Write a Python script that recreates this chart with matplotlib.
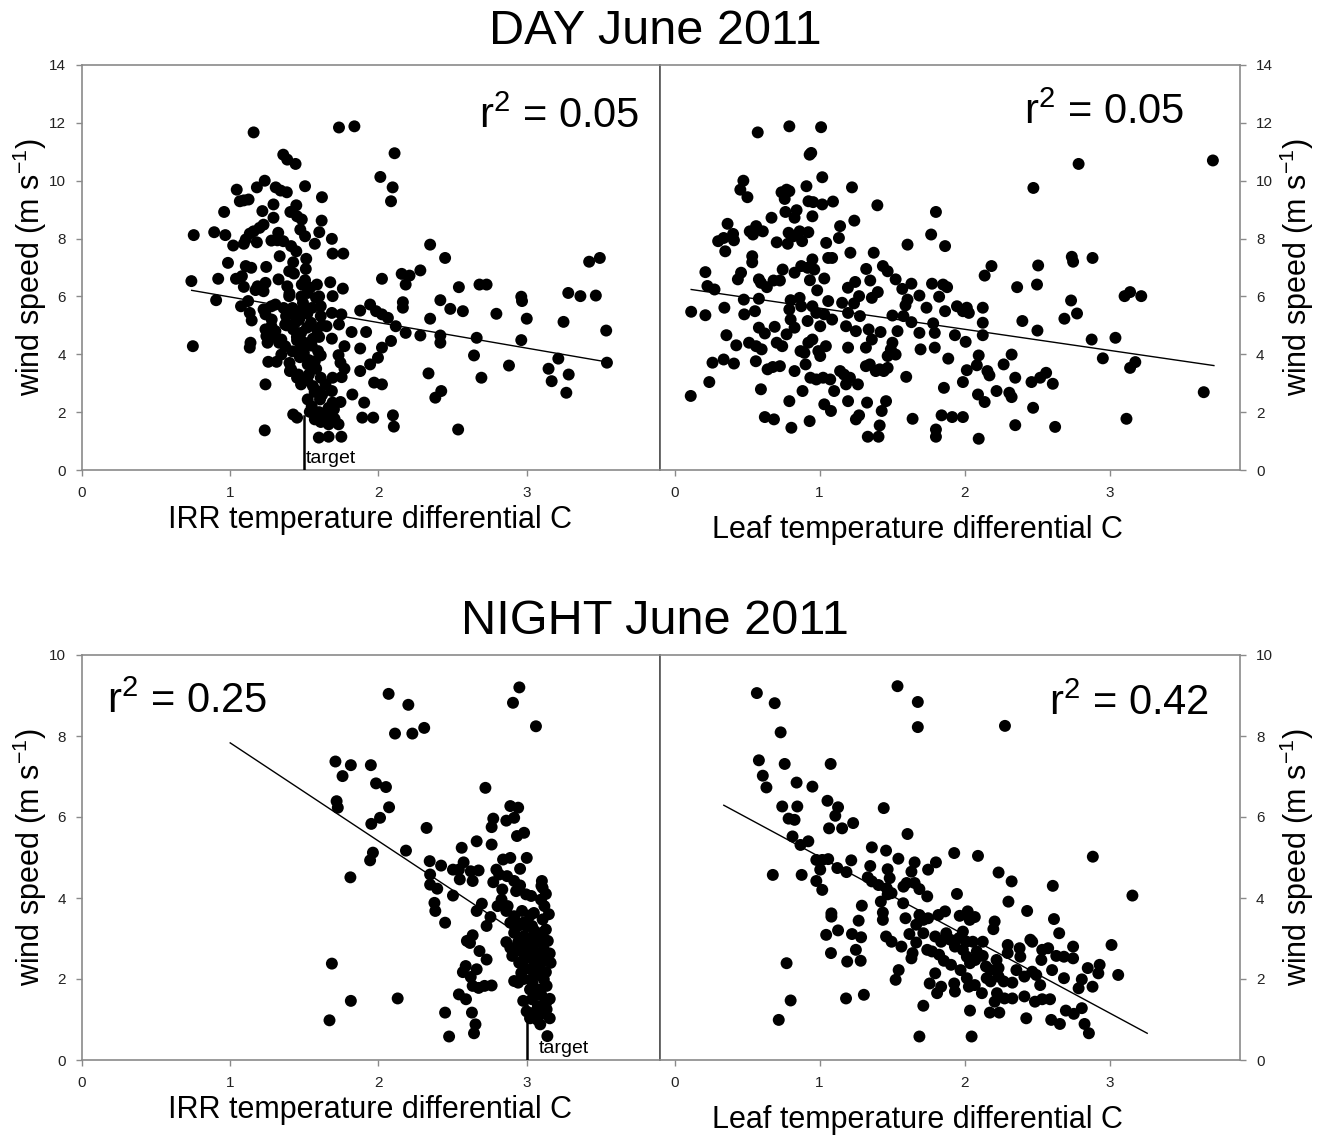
import matplotlib
matplotlib.use("Agg")
import matplotlib.pyplot as plt

plt.rcParams["font.family"] = ["Liberation Sans", "DejaVu Sans"]
plt.rcParams["mathtext.fontset"] = "custom"
plt.rcParams["mathtext.rm"] = "Liberation Sans"

# --- data ------------------------------------------------------------------
# DAY, IRR temperature differential vs wind speed
day_irr_x = [1.158, 1.734, 1.838, 2.109, 1.358, 1.385, 1.441, 2.013, 2.096, 2.085,
             1.233, 1.505, 1.044, 1.18, 1.307, 1.34, 1.382, 1.065, 1.092, 1.124,
             1.619, 1.292, 1.446, 0.959, 1.217, 1.406, 1.451, 1.292, 1.483, 1.617,
             1.225, 1.198, 1.158, 1.132, 0.754, 0.892, 0.967, 1.324, 1.473, 1.505,
             1.601, 1.105, 1.18, 1.092, 1.02, 1.278, 1.318, 1.358, 1.411, 1.446,
             1.571, 1.686, 1.691, 1.763, 1.334, 1.513, 1.425, 0.985, 1.243, 1.105,
             1.142, 1.51, 1.398, 1.43, 1.039, 0.919, 0.738, 1.079, 1.326, 1.505,
             1.585, 1.675, 1.092, 1.185, 1.238, 1.385, 1.483, 1.171, 1.225, 1.398,
             1.521, 1.691, 1.76, 0.905, 1.121, 1.305, 1.278, 1.491, 1.579, 1.611,
             1.073, 1.132, 1.145, 1.225, 1.238, 1.377, 1.446, 1.465, 1.505, 1.545,
             1.611, 1.686, 1.75, 1.371, 1.238, 1.278, 1.305, 1.425, 1.478, 1.518,
             1.585, 1.65, 1.734, 1.819, 1.244, 1.345, 1.451, 1.558, 1.686, 1.252,
             1.137, 1.132, 1.371, 1.478, 1.593, 1.771, 1.345, 1.497, 1.611, 1.731,
             1.257, 1.313, 1.411, 1.523, 1.571, 1.744, 1.771, 1.403, 1.451, 1.531,
             1.611, 1.691, 1.752, 1.478, 1.558, 1.643, 1.686, 1.585, 1.523, 1.606,
             1.691, 1.744, 1.664, 1.425, 1.451, 1.537, 1.571, 1.611, 1.645, 1.664,
             1.704, 1.731, 1.598, 1.664, 1.75, 1.233, 0.748, 1.238, 1.824, 1.877,
             1.917, 1.877, 1.904, 1.891, 1.965, 1.944, 1.971, 2.024, 1.997, 2.024,
             2.085, 2.098, 2.104, 1.877, 1.944, 1.984, 2.024, 2.064, 2.024, 2.117,
             2.165, 2.165, 2.184, 2.157, 2.21, 2.184, 2.283, 2.283, 2.349, 2.349,
             2.418, 2.418, 2.418, 2.338, 2.384, 2.424, 2.45, 2.485, 2.543, 2.57,
             2.538, 2.663, 2.645, 2.682, 2.73, 2.695, 2.796, 2.881, 2.964, 2.969,
             2.964, 3.001, 3.148, 3.169, 3.214, 3.249, 3.281, 3.284, 3.268, 3.363,
             3.422, 3.494, 3.467, 3.537, 3.542,
             1.42, 1.47, 1.52, 1.55, 1.45, 1.50, 1.55, 1.42, 1.47, 1.53,
             1.40, 1.58, 1.46, 1.52, 1.57, 1.62, 1.55, 1.60, 1.70, 1.66,
             1.38, 1.44, 1.60, 1.62, 1.33, 1.30, 1.28, 1.36, 1.40, 1.48,
             1.54, 1.60]
day_irr_y = [11.67, 11.84, 11.88, 10.95, 10.9, 10.73, 10.58, 10.13, 9.77, 9.29,
             10.0, 9.81, 9.69, 9.77, 9.77, 9.66, 9.6, 9.29, 9.32, 9.35,
             9.43, 9.18, 9.15, 8.92, 8.95, 8.92, 8.77, 8.72, 8.66, 8.62,
             8.48, 8.37, 8.25, 8.17, 8.12, 8.22, 8.12, 8.2, 8.31, 8.08,
             8.22, 7.97, 7.87, 7.82, 7.76, 7.93, 7.94, 7.91, 7.74, 7.56,
             7.82, 7.99, 7.48, 7.48, 7.39, 7.3, 7.18, 7.16, 7.02, 7.05,
             6.99, 6.95, 6.87, 6.79, 6.61, 6.61, 6.53, 6.7, 6.59, 6.56,
             6.41, 6.49, 6.33, 6.35, 6.47, 6.35, 6.41, 6.22, 6.18, 6.01,
             6.12, 6.01, 6.27, 5.87, 5.84, 5.72, 5.66, 5.78, 5.95, 5.66,
             5.66, 5.43, 5.17, 5.55, 5.38, 5.32, 5.32, 5.2, 5.49, 5.09,
             5.32, 5.43, 5.38, 5.03, 4.86, 4.97, 4.8, 4.86, 4.74, 4.92,
             4.86, 4.97, 5.03, 4.77, 4.63, 4.51, 4.48, 4.54, 4.54, 4.4,
             4.4, 4.23, 4.28, 4.28, 4.11, 4.28, 3.99, 4.05, 3.96, 3.97,
             3.74, 3.74, 3.48, 3.65, 3.76, 3.71, 3.5, 3.42, 3.19, 3.3,
             3.19, 3.19, 3.21, 2.96, 2.9, 2.96, 2.73, 2.73, 2.44, 2.44,
             2.33, 2.35, 2.15, 1.92, 1.81, 2.01, 1.75, 1.66, 1.84, 1.58,
             1.77, 1.58, 1.12, 1.15, 1.15, 1.37, 4.28, 2.96, 2.61, 4.2,
             4.77, 3.42, 2.33, 1.81, 1.81, 3.65, 3.02, 2.96, 3.88, 4.23,
             4.46, 1.89, 1.5, 5.51, 5.72, 5.49, 5.38, 5.26, 6.61, 4.97,
             5.8, 5.61, 4.74, 6.78, 6.72, 6.41, 6.9, 4.65, 7.79, 5.23,
             5.87, 4.65, 4.4, 3.34, 2.5, 2.73, 7.33, 5.57, 6.32, 5.49,
             1.4, 4.57, 3.96, 6.41, 6.41, 3.19, 5.4, 3.61, 5.99, 5.84,
             4.49, 5.23, 3.5, 3.07, 3.85, 5.12, 6.12, 3.3, 2.67, 6.01,
             7.2, 7.33, 6.03, 4.82, 3.71,
             5.6, 5.5, 5.4, 5.6, 4.6, 4.4, 4.3, 4.1, 3.9, 3.8,
             3.7, 3.5, 3.3, 3.1, 2.7, 2.6, 2.2, 2.0, 2.1, 1.9,
             5.0, 5.1, 4.6, 5.0, 4.4, 4.6, 5.2, 5.6, 6.1, 6.0,
             6.3, 6.0]
day_irr_fit_x = [0.74, 3.57]
day_irr_fit_y = [6.21, 3.71]

# DAY, leaf temperature differential vs wind speed
day_leaf_x = [0.574, 0.792, 1.011, 0.932, 0.943, 1.019, 0.475, 0.454, 0.503, 0.738,
              0.773, 0.792, 0.76, 0.91, 1.224, 0.924, 0.956, 1.019, 1.093, 1.399,
              0.765, 0.842, 0.828, 0.951, 0.669, 0.366, 1.24, 0.519, 0.563, 0.609,
              0.541, 0.787, 0.863, 0.923, 0.82, 0.88, 0.301, 0.339, 0.404, 0.41,
              0.35, 0.705, 0.781, 1.046, 1.134, 1.142, 1.213, 1.374, 1.607, 1.77,
              1.803, 1.866, 0.536, 0.536, 1.06, 1.087, 0.951, 0.874, 0.918, 0.964,
              0.746, 0.828, 1.322, 1.437, 1.47, 0.213, 0.459, 0.437, 0.582, 0.596,
              0.637, 0.683, 0.727, 0.934, 1.033, 1.246, 1.35, 1.196, 1.525, 1.571,
              1.634, 1.776, 1.852, 1.88, 0.984, 0.227, 0.276, 0.582, 0.478, 1.273,
              1.402, 1.689, 1.825, 1.361, 1.607, 0.801, 0.863, 1.06, 1.156, 1.238,
              1.593, 1.738, 1.866, 1.948, 1.989, 2.016, 2.03, 2.126, 2.126, 2.126,
              0.115, 0.213, 0.344, 0.555, 0.481, 0.792, 0.874, 0.951, 0.978, 1.033,
              1.087, 1.197, 1.279, 1.503, 1.579, 1.634, 1.784, 0.801, 0.828, 0.918,
              1.005, 1.183, 1.251, 1.339, 1.421, 1.538, 1.689, 1.795, 1.934, 2.008,
              0.582, 0.623, 0.691, 0.773, 0.358, 0.426, 0.514, 0.563, 0.601, 0.705,
              0.743, 0.869, 0.923, 0.951, 0.992, 1.044, 1.005, 0.896, 1.197, 1.32,
              1.361, 1.503, 1.492, 1.525, 1.47, 1.697, 1.795, 1.888, 2.098, 2.325,
              2.27, 2.399, 2.363, 2.5, 2.508, 2.503, 2.475, 2.139, 2.186, 2.787,
              2.74, 2.749, 2.883, 2.689, 2.735, 2.776, 2.877, 2.954, 3.041, 3.104,
              3.142, 3.219, 3.142, 3.178, 3.117, 3.713, 3.65, 0.262, 0.339, 0.41,
              0.24, 0.112, 0.561, 0.642, 0.678, 0.727, 0.828, 0.904, 0.596, 0.883,
              0.792, 0.937, 0.978, 1.025, 1.074, 1.033, 1.079, 1.101, 1.142, 1.169,
              1.183, 1.21, 1.265, 1.197, 1.32, 1.347, 1.388, 1.415, 1.443, 1.47,
              1.328, 1.459, 1.429, 1.415, 1.333, 1.407, 1.251, 1.273, 1.598, 1.642,
              0.623, 0.686, 0.806, 0.932, 1.858, 1.842, 1.915, 1.989, 1.803, 1.803,
              1.989, 2.016, 2.085, 2.093, 2.139, 2.158, 2.172, 2.098, 2.221, 2.309,
              2.325, 2.35, 2.35, 2.462, 2.473, 2.522, 2.563, 2.609, 2.625]
day_leaf_y = [11.67, 11.88, 11.85, 10.9, 10.96, 10.12, 10.0, 9.69, 9.43, 9.6,
              9.69, 9.64, 9.37, 9.81, 9.77, 9.29, 9.26, 9.18, 9.28, 9.15,
              8.92, 8.98, 8.72, 8.77, 8.72, 8.51, 8.62, 8.25, 8.43, 8.25,
              8.14, 8.2, 8.25, 8.22, 8.08, 7.91, 7.91, 8.02, 8.16, 7.94,
              7.56, 7.87, 7.82, 7.85, 8.02, 8.43, 7.51, 7.51, 7.79, 8.14,
              8.92, 7.74, 7.39, 7.18, 7.33, 7.33, 7.28, 7.05, 6.99, 6.93,
              6.93, 6.82, 6.95, 7.05, 6.87, 6.84, 6.82, 6.59, 6.59, 6.47,
              6.32, 6.55, 6.55, 6.56, 6.62, 6.5, 6.55, 6.3, 6.59, 6.26,
              6.44, 6.44, 6.41, 6.32, 6.21, 6.36, 6.24, 5.92, 5.89, 6.01,
              6.15, 6.03, 5.99, 5.95, 5.89, 5.87, 5.95, 5.84, 5.78, 5.76,
              5.69, 5.61, 5.49, 5.66, 5.49, 5.61, 5.43, 5.61, 5.09, 4.66,
              5.47, 5.35, 5.61, 5.49, 5.38, 5.55, 5.66, 5.66, 5.43, 5.38,
              5.2, 5.43, 5.32, 5.34, 5.32, 5.11, 5.07, 5.2, 4.92, 5.15,
              4.97, 4.97, 4.8, 4.86, 4.77, 4.8, 4.74, 4.74, 4.66, 4.43,
              4.92, 4.72, 4.95, 4.69, 4.66, 4.31, 4.4, 4.28, 4.17, 4.4,
              4.28, 4.11, 4.4, 4.51, 4.11, 4.28, 3.94, 4.05, 4.23, 4.23,
              4.51, 4.4, 4.17, 3.99, 3.94, 4.17, 4.23, 3.85, 3.96, 3.99,
              3.65, 5.15, 6.32, 6.41, 7.07, 4.82, 9.75, 6.72, 7.05, 10.58,
              7.37, 7.2, 7.33, 5.23, 5.86, 5.41, 4.51, 3.86, 4.57, 6.01,
              6.15, 6.01, 3.53, 3.73, 1.77, 10.7, 2.69, 3.71, 3.82, 3.68,
              3.04, 2.56, 3.76, 3.48, 3.56, 3.59, 3.42, 3.65, 2.79, 2.73,
              2.38, 3.19, 3.13, 3.19, 3.13, 2.27, 2.04, 2.73, 3.42, 3.3,
              2.96, 3.19, 2.96, 2.38, 3.59, 3.65, 3.42, 3.48, 3.42, 3.53,
              2.33, 2.38, 2.04, 1.54, 1.15, 1.15, 1.75, 1.89, 3.22, 1.77,
              1.83, 1.75, 1.46, 1.69, 2.84, 1.89, 1.83, 1.83, 1.4, 1.15,
              3.04, 3.45, 3.62, 2.61, 2.35, 3.42, 3.27, 1.08, 2.73, 2.67,
              2.52, 3.19, 1.55, 3.04, 2.15, 3.19, 3.36, 2.98, 1.49]
day_leaf_fit_x = [0.115, 3.72]
day_leaf_fit_y = [6.24, 3.61]

# NIGHT, IRR temperature differential vs wind speed
night_irr_x = [2.069, 2.202, 2.112, 2.229, 2.309, 2.951, 2.908, 3.063, 1.71, 1.758,
               1.814, 1.949, 1.984, 2.051, 1.718, 1.726, 2.072, 2.011, 1.952, 2.325,
               2.722, 1.963, 1.944, 2.186, 1.811, 2.346, 2.423, 2.503, 2.543, 2.562,
               2.575, 2.623, 2.676, 2.663, 2.764, 2.775, 2.764, 2.863, 2.89, 2.943,
               2.916, 2.935, 2.983, 3.001, 2.841, 2.89, 2.349, 2.349, 2.397, 2.549,
               2.636, 2.503, 2.796, 2.775, 2.815, 2.868, 2.916, 2.956, 2.836, 2.929,
               2.956, 2.996, 3.031, 3.103, 3.108, 3.097, 2.378, 2.384, 2.698, 2.663,
               2.804, 2.756, 2.73, 2.863, 2.916, 2.969, 3.023, 3.049, 3.108, 2.45,
               2.89, 2.943, 2.983, 3.036, 3.103, 3.13, 2.916, 2.983, 3.036, 3.076,
               3.143, 2.863, 2.943, 2.996, 3.049, 3.116, 2.89, 2.956, 3.023, 3.081,
               3.156, 2.903, 2.983, 3.049, 3.103, 3.162, 2.983, 3.028, 3.092, 3.13,
               2.964, 3.049, 3.116, 3.135, 2.916, 3.023, 3.092, 2.943, 3.081, 3.156,
               3.036, 2.977, 3.076, 3.135, 3.049, 3.108, 3.023, 3.156, 3.092, 3.14,
               2.618, 2.597, 2.636, 2.682, 2.73, 2.589, 2.57, 2.663, 2.623, 2.636,
               2.676, 2.716, 2.764, 2.543, 2.591, 2.631, 2.655, 2.645, 2.45, 2.477,
               1.686, 1.67, 1.814, 2.13, 2.831, 2.872,
               3.0, 3.05, 3.1, 3.0, 3.06, 3.12, 2.98, 3.04, 3.1, 3.0,
               3.07, 3.13, 2.95, 2.93, 3.15, 3.13, 3.1, 3.12]
night_irr_y = [9.04, 8.77, 8.06, 8.06, 8.2, 9.2, 8.82, 8.24, 7.37, 7.01,
               7.28, 7.28, 6.83, 6.74, 6.39, 6.23, 6.24, 5.98, 5.83, 5.73,
               6.72, 5.12, 4.93, 5.17, 4.51, 4.91, 4.8, 4.7, 4.7, 5.24,
               4.88, 4.66, 4.68, 5.4, 5.32, 5.96, 5.75, 5.91, 6.27, 6.23,
               5.98, 5.53, 5.61, 4.99, 4.95, 4.99, 4.58, 4.33, 4.23, 4.46,
               4.42, 4.06, 4.7, 4.39, 4.58, 4.54, 4.42, 4.72, 4.21, 4.17,
               4.31, 4.09, 4.05, 4.42, 4.25, 3.96, 3.88, 3.68, 3.86, 3.68,
               3.8, 3.53, 3.31, 3.68, 3.55, 3.68, 3.57, 3.63, 3.47, 3.39,
               3.39, 3.31, 3.4, 3.31, 3.14, 3.22, 3.14, 3.06, 3.02, 3.06,
               2.94, 2.91, 2.91, 2.85, 2.85, 2.73, 2.77, 2.69, 2.65, 2.61,
               2.63, 2.57, 2.48, 2.44, 2.42, 2.4, 2.28, 2.24, 2.21, 2.17,
               2.15, 2.07, 1.99, 1.83, 1.95, 1.74, 1.74, 1.91, 1.62, 1.51,
               1.5, 1.46, 1.33, 1.25, 1.17, 1.15, 1.03, 1.03, 0.88, 0.59,
               2.89, 2.94, 3.08, 2.69, 2.48, 2.32, 2.17, 2.24, 2.05, 1.83,
               1.78, 1.83, 1.84, 1.62, 1.5, 1.17, 0.88, 0.66, 1.17, 0.58,
               2.38, 0.98, 1.46, 1.52, 3.96, 3.8,
               3.3, 3.2, 2.95, 2.6, 2.3, 2.5, 2.0, 1.9, 1.6, 1.2,
               1.0, 1.4, 2.4, 3.4, 3.6, 4.1, 4.3, 3.8]
night_irr_fit_x = [1.0, 2.94]
night_irr_fit_y = [7.83, 3.13]

# NIGHT, leaf temperature differential vs wind speed
night_leaf_x = [0.568, 0.691, 0.732, 1.538, 1.678, 1.678, 2.279, 0.582, 0.609, 0.634,
                0.76, 0.842, 0.951, 1.077, 1.055, 0.743, 0.847, 0.787, 0.828, 1.128,
                1.109, 1.066, 1.156, 1.232, 1.443, 1.607, 0.814, 0.869, 0.923, 0.978,
                1.019, 1.06, 0.678, 0.877, 1.005, 0.978, 1.019, 1.123, 1.186, 1.219,
                1.361, 1.459, 1.544, 1.35, 1.333, 1.361, 1.407, 1.47, 1.484, 1.464,
                1.47, 1.497, 1.423, 1.579, 1.601, 1.634, 1.656, 1.656, 1.689, 1.743,
                1.749, 1.803, 1.929, 2.093, 1.577, 1.292, 1.082, 1.082, 1.27, 1.437,
                1.437, 1.593, 1.667, 1.689, 1.716, 1.749, 1.82, 1.866, 1.948, 1.967,
                2.022, 2.071, 2.036, 2.303, 2.325, 2.235, 2.432, 2.609, 2.617, 2.885,
                3.158, 2.208, 2.199, 1.046, 1.128, 1.224, 1.287, 1.251, 1.079, 1.191,
                1.284, 0.773, 0.801, 0.719, 1.183, 1.306, 1.459, 1.497, 1.565, 1.62,
                1.667, 1.642, 1.634, 1.716, 1.743, 1.798, 1.839, 1.874, 1.902, 1.934,
                1.962, 1.989, 2.011, 2.057, 2.085, 2.126, 1.776, 1.825, 1.858, 1.907,
                1.989, 2.016, 2.038, 2.074, 2.126, 2.148, 2.18, 2.221, 2.235, 2.298,
                2.38, 2.298, 2.385, 2.454, 2.467, 2.536, 2.577, 2.53, 2.633, 2.686,
                2.749, 2.749, 2.653, 2.604, 2.467, 2.413, 2.495, 2.522, 2.686, 2.809,
                2.787, 2.85, 2.883, 2.932, 2.923, 3.014, 3.06, 1.798, 1.76, 1.839,
                1.811, 1.929, 1.934, 1.973, 2.016, 2.03, 2.071, 2.12, 2.153, 2.18,
                2.235, 2.27, 2.33, 2.358, 2.224, 2.208, 2.276, 2.33, 2.413, 2.486,
                2.536, 2.59, 2.175, 2.24, 2.426, 2.598, 2.658, 2.699, 2.754, 2.809,
                2.828, 2.858, 2.038, 1.716, 1.689, 2.049, 1.525, 1.546]
night_leaf_y = [9.06, 8.81, 8.09, 9.23, 8.84, 8.22, 8.25, 7.4, 7.02, 6.73,
                7.31, 6.85, 6.75, 7.31, 6.4, 6.26, 6.26, 5.96, 5.93, 6.24,
                6.03, 5.72, 5.72, 5.85, 6.22, 5.58, 5.52, 5.31, 5.4, 4.94,
                4.94, 4.96, 4.57, 4.57, 4.7, 4.42, 4.2, 4.74, 4.64, 4.93,
                5.25, 5.17, 4.97, 4.79, 4.51, 4.41, 4.32, 4.71, 4.49, 4.24,
                4.09, 4.12, 3.91, 4.28, 4.37, 4.65, 4.88, 4.37, 4.22, 4.04,
                4.7, 4.88, 5.11, 5.04, 3.87, 3.81, 3.62, 3.54, 3.44, 3.64,
                3.46, 3.5, 3.34, 3.58, 3.46, 3.5, 3.58, 3.67, 4.1, 3.56,
                3.67, 3.53, 3.46, 3.91, 4.41, 4.63, 3.68, 4.3, 3.48, 5.02,
                4.06, 3.42, 3.23, 3.09, 3.2, 3.11, 3.03, 2.72, 2.64, 2.43,
                2.45, 2.39, 1.47, 0.99, 1.52, 1.61, 3.05, 2.92, 2.8, 3.11,
                2.9, 2.64, 2.51, 3.13, 2.72, 3.05, 2.92, 3.13, 2.97, 2.8,
                3.01, 3.17, 2.92, 2.92, 2.68, 2.92, 2.68, 2.6, 2.45, 2.35,
                2.72, 2.55, 2.39, 2.47, 2.57, 2.31, 2.22, 2.47, 2.27, 2.84,
                2.76, 2.64, 2.55, 2.97, 2.92, 2.72, 2.76, 2.47, 2.57, 2.55,
                2.51, 2.8, 3.13, 2.22, 2.18, 2.06, 2.1, 1.85, 2.02, 1.99,
                1.77, 2.27, 1.81, 2.35, 2.14, 2.84, 2.1, 2.14, 1.89, 1.81,
                1.65, 1.89, 1.69, 2.22, 2.02, 1.81, 1.85, 1.65, 2.02, 1.94,
                2.06, 1.94, 1.91, 2.22, 1.65, 1.44, 1.52, 1.52, 1.57, 1.44,
                1.5, 1.5, 1.17, 1.17, 1.03, 0.99, 0.89, 1.22, 1.14, 1.28,
                0.89, 0.66, 1.22, 1.34, 0.58, 0.58, 1.98, 2.22]
night_leaf_fit_x = [0.34, 3.26]
night_leaf_fit_y = [6.29, 0.66]

r2_labels = ["0.05", "0.05", "0.25", "0.42"]
titles = ["DAY June 2011", "NIGHT June 2011"]
xlabels = ["IRR temperature differential C", "Leaf temperature differential C"]
ylabel = r"wind speed (m s$^{\mathregular{-1}}$)"
target_x = [1.5, 3.0]

# --- figure ------------------------------------------------------------------
W, H = 1319, 1137
fig = plt.figure(figsize=(W / 100, H / 100), dpi=100)

SPINE = "#8a8a8a"
MID = "#555555"
TICKFONT = ["Liberation Sans Narrow", "Liberation Sans", "DejaVu Sans"]


def ax_rect(x0, y0, x1, y1):
    return [x0 / W, 1 - y1 / H, (x1 - x0) / W, (y1 - y0) / H]


def style(ax, side):
    for s in ax.spines.values():
        s.set_color(SPINE)
        s.set_linewidth(1.2)
    ax.spines["right" if side == "left" else "left"].set_color(MID)
    ax.tick_params(axis="both", direction="out", length=4.5, width=1.0, color=SPINE,
                   labelsize=11, labelcolor="#222222", pad=7)
    if side == "right":
        ax.yaxis.tick_right()
    for lab in ax.get_xticklabels() + ax.get_yticklabels():
        lab.set_family(TICKFONT)


def panel(ax, x, y, fx, fy, r2, r2_pos, ymax, side):
    ax.scatter(x, y, s=74, color="black", edgecolors="none", zorder=3)
    ax.plot(fx, fy, color="black", lw=1.0, zorder=2)
    ax.set_ylim(0, ymax)
    ax.set_yticks(range(0, ymax + 1, 2))
    ax.set_xticks([0, 1, 2, 3])
    ax.text(r2_pos[0], r2_pos[1], r"r$^{\mathregular{2}}$ = " + r2, fontsize=30,
            ha="left", va="center")
    style(ax, side)


rows = [(65, 470, 14), (655, 1060, 10)]
data = [
    [(day_irr_x, day_irr_y, day_irr_fit_x, day_irr_fit_y, (2.68, 12.2)),
     (day_leaf_x, day_leaf_y, day_leaf_fit_x, day_leaf_fit_y, (2.41, 12.35))],
    [(night_irr_x, night_irr_y, night_irr_fit_x, night_irr_fit_y, (0.17, 8.85)),
     (night_leaf_x, night_leaf_y, night_leaf_fit_x, night_leaf_fit_y, (2.58, 8.8))],
]
target_top = [1.87, 1.37]
target_text = [(1.51, 0.24), (3.08, 0.18)]

for r, (top, bot, ymax) in enumerate(rows):
    axl = fig.add_axes(ax_rect(82, top, 660, bot))
    axr = fig.add_axes(ax_rect(660, top, 1240, bot))
    x, y, fx, fy, pos = data[r][0]
    panel(axl, x, y, fx, fy, r2_labels[2 * r], pos, ymax, "left")
    axl.set_xlim(0, 3.9)
    x, y, fx, fy, pos = data[r][1]
    panel(axr, x, y, fx, fy, r2_labels[2 * r + 1], pos, ymax, "right")
    axr.set_xlim(-0.1, 3.9)

    # target marker on the IRR panel
    axl.plot([target_x[r], target_x[r]], [0, target_top[r]], color="black", lw=1.8, zorder=4)
    axl.text(target_text[r][0], target_text[r][1], "target", fontsize=14,
             ha="left", va="baseline", family=TICKFONT)

    mid = (top + bot) / 2
    fig.text(655 / W, 1 - (top - 34) / H, titles[r], fontsize=35, ha="center", va="center")
    fig.text(370 / W, 1 - (bot + 50) / H, xlabels[0], fontsize=22, ha="center", va="center")
    fig.text(917 / W, 1 - (bot + 60) / H, xlabels[1], fontsize=22, ha="center", va="center")
    fig.text(30 / W, 1 - mid / H, ylabel, fontsize=22, rotation=90, ha="center", va="center")
    fig.text(1297 / W, 1 - mid / H, ylabel, fontsize=22, rotation=90, ha="center", va="center")

fig.savefig("out.png", dpi=100)
